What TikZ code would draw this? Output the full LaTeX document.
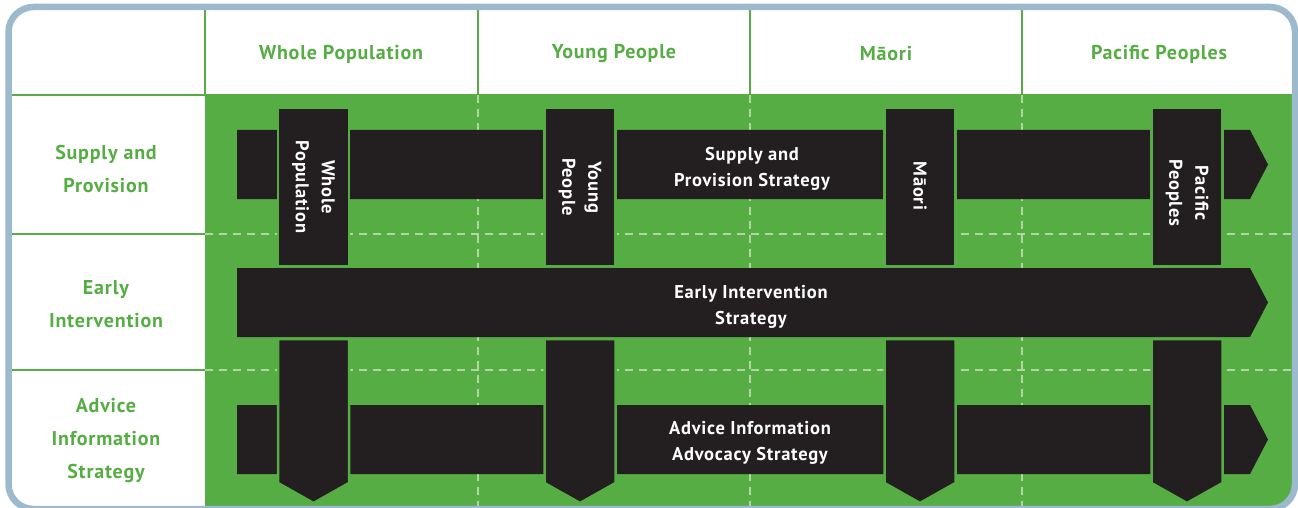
\documentclass[tikz,border=0pt]{standalone}
\usepackage{fontspec}
\setmainfont{PT Sans}
\newfontfamily\barfont{PT Sans}[LetterSpace=4]
\definecolor{grn}{RGB}{86,173,68}
\definecolor{blk}{RGB}{35,31,32}
\definecolor{frm}{RGB}{157,185,206}
\definecolor{dsh}{RGB}{178,214,166}
\tikzset{
  hdr/.style={text=grn, font=\barfont\bfseries\fontsize{20}{33}\selectfont, align=center, inner sep=0pt},
  bartxt/.style={text=white, font=\barfont\bfseries\fontsize{18.5}{26}\selectfont, align=center, inner sep=0pt},
  gridline/.style={draw=grn, line width=2pt},
  dashline/.style={draw=dsh, line width=1.6pt, dash pattern=on 8pt off 6pt},
  vbar/.style={fill=blk, draw=grn, line width=2.5pt},
  hbar/.style={fill=blk}
}
\begin{document}
\begin{tikzpicture}[x=1pt,y=-1pt]
\useasboundingbox (0,0) rectangle (1298,508);
% white inside
\fill[white] (8.5,7) [rounded corners=25pt] rectangle (1295,509);
\begin{scope}
\clip (8.5,7) [rounded corners=25pt] rectangle (1295,509);
\fill[grn] (205,95) rectangle (1300,512);
% grid lines in white area
\draw[gridline] (205,7) -- (205,95);
\draw[gridline] (478,7) -- (478,95);
\draw[gridline] (750,7) -- (750,95);
\draw[gridline] (1022,7) -- (1022,95);
\draw[gridline] (8,95) -- (1295,95);
\draw[gridline] (8,234) -- (205,234);
\draw[gridline] (8,370) -- (205,370);
% dashed lines in green area
\draw[dashline] (205,234) -- (1295,234);
\draw[dashline] (205,370) -- (1295,370);
\draw[dashline] (478,95) -- (478,509);
\draw[dashline] (750,95) -- (750,509);
\draw[dashline] (1022,95) -- (1022,509);
\end{scope}
% frame
\draw[frm, line width=6.5pt] (8.5,7) [rounded corners=25pt] rectangle (1295,509);
% horizontal arrows
\fill[hbar] (237,130) -- (1250,130) -- (1268,164.5) -- (1250,199) -- (237,199) -- cycle;
\fill[hbar] (237,268) -- (1250,268) -- (1268,302.5) -- (1250,337) -- (237,337) -- cycle;
\fill[hbar] (237,405) -- (1250,405) -- (1268,439.5) -- (1250,474) -- (237,474) -- cycle;
% vertical bars
\foreach \cx in {313.5,580,920,1187}{
  \draw[vbar] (\cx-35.5,108) rectangle (\cx+35.5,266);
  \draw[vbar] (\cx-35.5,339) -- (\cx+35.5,339) -- (\cx+35.5,483) -- (\cx,503) -- (\cx-35.5,483) -- cycle;
}
% header texts
\node[hdr] (hwp) at (341,54) {Whole Population};
\node[hdr] (hyp) at (614,54) {Young People};
\node[hdr] (hma) at (886,54) {Māori};
\node[hdr] (hpp) at (1159,54) {Pacific Peoples};
% row labels
\node[hdr] (rsp) at (106,169) {Supply and\\Provision};
\node[hdr] (rei) at (106,304) {Early\\Intervention};
\node[hdr] (rai) at (106,441) {Advice\\Information\\Strategy};
% bar texts
\node[bartxt] (tsp) at (752,169) {Supply and\\Provision Strategy};
\node[bartxt] (tei) at (751,307) {Early Intervention\\Strategy};
\node[bartxt] (tai) at (750,443) {Advice Information\\Advocacy Strategy};
% vertical texts
\node[bartxt, rotate=-90] (vwp) at (313.5,187) {Whole\\Population};
\node[bartxt, rotate=-90] (vyp) at (580,187) {Young\\People};
\node[bartxt, rotate=-90] (vma) at (920,186) {Māori};
\node[bartxt, rotate=-90] (vpp) at (1187,193) {Pacific\\Peoples};
\end{tikzpicture}
\end{document}
